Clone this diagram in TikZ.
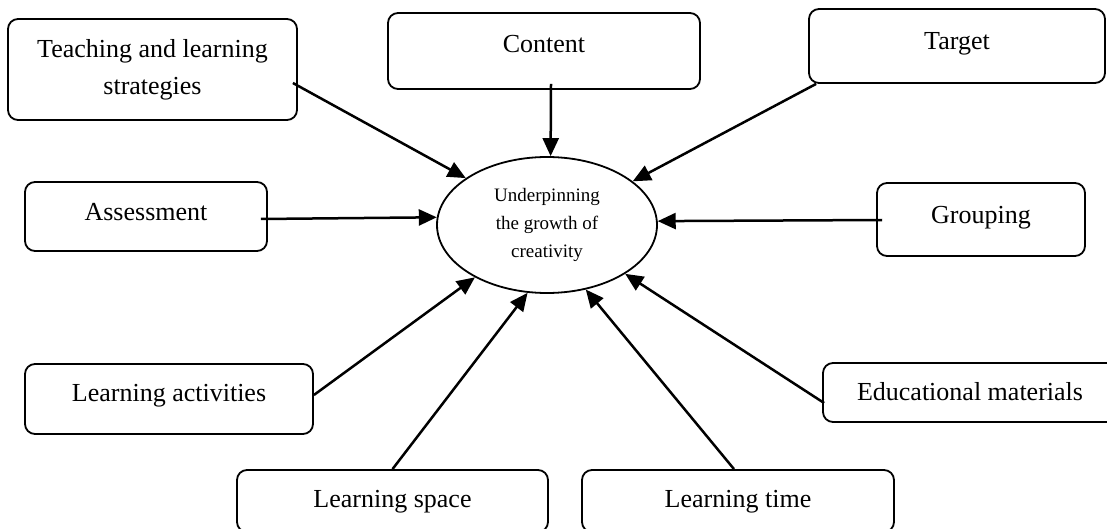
\documentclass[tikz,border=0pt]{standalone}
\usepackage{fontspec}
\setmainfont{Liberation Serif}
\usetikzlibrary{arrows.meta}
\usetikzlibrary{shapes.geometric}
\tikzset{box/.style={draw, rounded corners=5pt, line width=0.9pt,
    inner sep=0pt, align=center, font=\fontsize{13}{18.5}\selectfont},
  raiseby/.style={text height=8.6pt, text depth=#1}}

\begin{document}
\begin{tikzpicture}[x=0.5pt,y=-0.5pt,
      >={Triangle[length=9pt,width=8pt]},
      line width=1.25pt]

    \useasboundingbox (0,0) rectangle (1107,529);

    \node[ellipse, draw, line width=0.9pt, inner sep=0pt,
      minimum width=110pt, minimum height=68pt, align=center,
      font=\fontsize{9.5}{14}\selectfont]
      (Growth) at (547,225) {Underpinning\\the growth of\\creativity};

    \node[box, minimum width=144.5pt, minimum height=50.5pt]
      (Teaching) at (152.5,69.5) {Teaching and learning\\strategies};
    \node[box, raiseby=7.5pt, minimum width=156pt, minimum height=38pt]
      (Content) at (544,51) {Content};
    \node[box, raiseby=5.5pt, minimum width=148pt, minimum height=37pt]
      (Target) at (957,46) {Target};
    \node[box, raiseby=5pt, minimum width=121pt, minimum height=34.5pt]
      (Assessment) at (146,216.5) {Assessment};
    \node[box, raiseby=4.5pt, minimum width=104pt, minimum height=36.5pt]
      (Grouping) at (981,219.5) {Grouping};
    \node[box, raiseby=6.5pt, minimum width=144pt, minimum height=35pt]
      (Activities) at (169,399) {Learning activities};
    \node[box, raiseby=0.5pt, minimum width=147pt, minimum height=29.5pt]
      (Materials) at (970,392.5) {Educational materials};
    \node[box, raiseby=2pt, minimum width=155.5pt, minimum height=31pt]
      (Space) at (392.5,501) {Learning space};
    \node[box, raiseby=2pt, minimum width=156pt, minimum height=31pt]
      (Time) at (738,501) {Learning time};

    \path[->]
      ([shift={(-5,13.5)}]Teaching.east) edge (Growth.150.3)
      ([shift={(7,-6)}]Content.south) edge (Growth.87)
      ([shift={(8,0)}]Target.south west) edge (Growth.27.9)
      ([shift={(-7,2.5)}]Assessment.east) edge (Growth.176.9)
      ([shift={(6,0.5)}]Grouping.west) edge (Growth.2.7)
      ([shift={(0,-4)}]Activities.east) edge (Growth.216.1)
      (Space.north) edge (Growth.254.4)
      ([shift={(-4,0)}]Time.north) edge (Growth.301.1)
      ([shift={(2,10.5)}]Materials.west) edge (Growth.328.3);

  \end{tikzpicture}
\end{document}
